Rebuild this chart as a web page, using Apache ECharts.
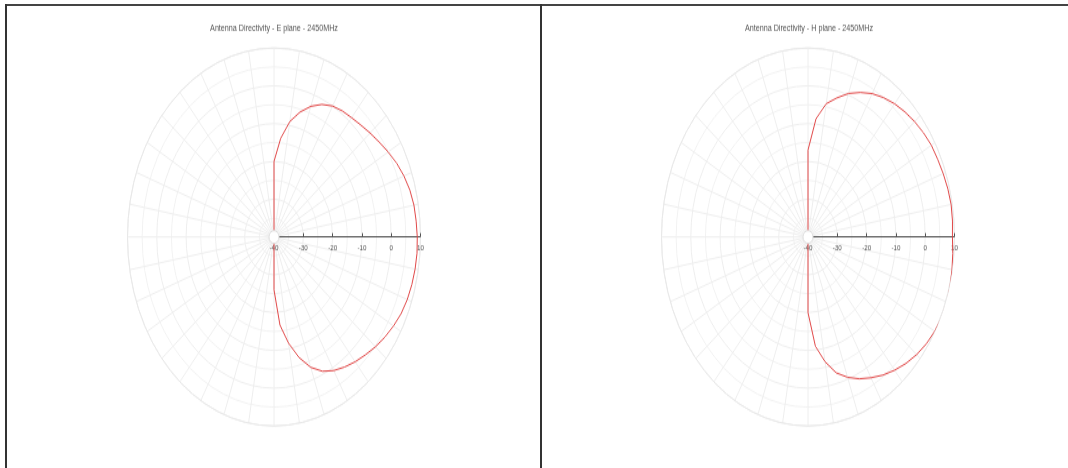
<!DOCTYPE html>
<html>
<head>
<meta charset="utf-8">
<script src="https://cdn.jsdelivr.net/npm/echarts@6/dist/echarts.min.js"></script>
<style>
  html, body { margin: 0; padding: 0; background: #fff; }
  body { width: 1068px; height: 468px; position: relative; overflow: hidden; }
  .frame-top { position: absolute; left: 5px; top: 4px; width: 1063px; height: 2px; background: #444; }
  .frame-v { position: absolute; top: 4px; width: 2px; height: 464px; background: #333; }
  .cell { position: absolute; top: 0; width: 534px; height: 363px; transform: scaleY(1.29); transform-origin: 0 0; }
</style>
</head>
<body>
<div class="frame-top"></div>
<div class="frame-v" style="left:5px"></div>
<div class="frame-v" style="left:540px"></div>
<div id="chartE" class="cell" style="left:7px"></div>
<div id="chartH" class="cell" style="left:542px"></div>
<script>
// angles in degrees, 0 = boresight (right), counter-clockwise
const angles = Array.from({length: 72}, (_, i) => i * 5);

// directivity in dB, one value per angle above
const ePlane = [
    8.9, 8.7, 8.5, 8.0, 7.2, 6.2, 5.0, 3.8, 2.8, 1.9, 1.2, 0.7, 0.0, -1.3, -3.2, -5.8, -9.0, -13.8, -20,
    -40, -40, -40, -40, -40, -40, -40, -40, -40, -40, -40, -40, -40, -40, -40, -40, -40, -40,
    -40, -40, -40, -40, -40, -40, -40, -40, -40, -40, -40, -40, -40, -40, -40, -40, -40,
    -26, -16.6, -11.5, -7.0, -3.3, -0.8, 0.8, 2.0, 3.1, 4.1, 5.2, 6.2, 7.1, 7.9, 8.4, 8.7, 8.9, 9.0
];
const hPlane = [
    9.3, 9.5, 9.6, 9.4, 9.1, 8.8, 8.6, 8.1, 7.5, 6.8, 6.0, 5.0, 3.8, 2.2, 0.4, -1.9, -4.2, -8.6, -17,
    -40, -40, -40, -40, -40, -40, -40, -40, -40, -40, -40, -40, -40, -40, -40, -40, -40, -40,
    -40, -40, -40, -40, -40, -40, -40, -40, -40, -40, -40, -40, -40, -40, -40, -40, -40,
    -20, -11, -6.5, -2.8, -0.5, 1.4, 3.0, 4.6, 6.0, 7.3, 8.4, 9.3, 9.9, 10.3, 10.4, 10.2, 9.9, 9.6
];

const radiusTicks = [-40, -30, -20, -10, 0, 10];

function drawPolar(elId, title, values, cx) {
    let chart = echarts.init(document.getElementById(elId));
    const cy = 183.7;
    // start the path at the back (180 deg) so the front lobe is drawn as one piece
    const data = [];
    for (let k = 0; k < angles.length; k++) {
        let i = (k + 36) % angles.length;
        data.push([values[i], angles[i]]);
    }
    let option = {
        animation: false,
        title: {
            text: title,
            left: 'center',
            top: 14,
            textStyle: {fontSize: 7.2, fontWeight: 'normal', color: '#555', fontFamily: 'Liberation Sans'}
        },
        polar: {
            center: [cx, cy],
            radius: [0, 146.5]
        },
        angleAxis: {
            type: 'value',
            min: 0,
            max: 360,
            interval: 10,
            startAngle: 0,
            clockwise: false,
            axisLine: {show: true, lineStyle: {color: '#e8e8e8', width: 1}},
            axisTick: {show: false},
            axisLabel: {show: false},
            splitLine: {show: true, lineStyle: {color: '#eeeeee', width: 1}}
        },
        radiusAxis: {
            type: 'value',
            min: radiusTicks[0],
            max: radiusTicks[radiusTicks.length - 1],
            interval: 10,
            axisLine: {show: true, lineStyle: {color: '#555', width: 1.2}},
            axisTick: {show: true, length: 3, lineStyle: {color: '#555'}},
            axisLabel: {fontSize: 6.2, color: '#555', margin: -12, fontFamily: 'Liberation Sans'},
            splitLine: {show: true, lineStyle: {color: '#eeeeee', width: 1}},
            minorTick: {show: false, splitNumber: 2},
            minorSplitLine: {show: true, lineStyle: {color: '#f2f2f2', width: 1}}
        },
        graphic: [{
            type: 'circle',
            shape: {cx: cx, cy: cy, r: 5},
            style: {fill: '#fff', stroke: '#ddd', lineWidth: 1},
            z: 100
        }],
        series: [{
            type: 'line',
            coordinateSystem: 'polar',
            data: data,
            showSymbol: false,
            clip: false,
            lineStyle: {color: '#e04848', width: 1}
        }]
    };
    chart.setOption(option);
}

drawPolar('chartE', 'Antenna Directivity - E plane - 2450MHz', ePlane, 267);
drawPolar('chartH', 'Antenna Directivity - H plane - 2450MHz', hPlane, 266);
</script>
</body>
</html>
